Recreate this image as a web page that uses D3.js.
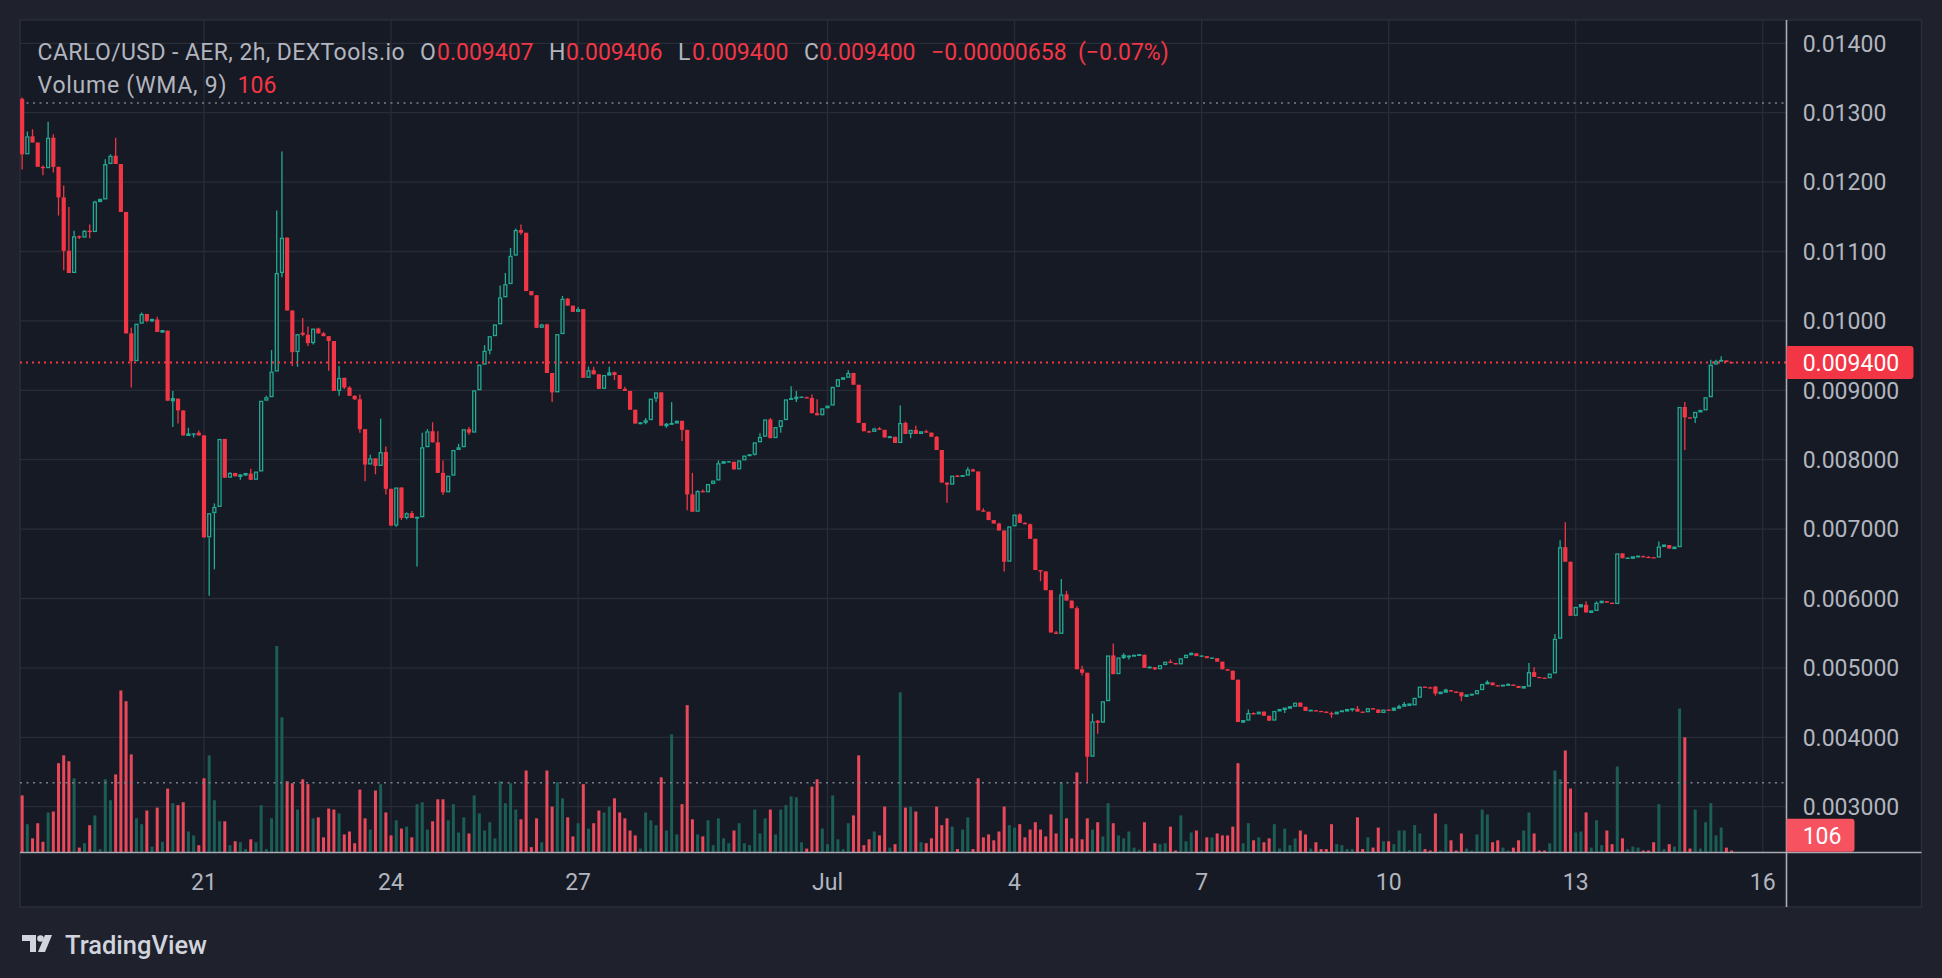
<!DOCTYPE html>
<html><head><meta charset="utf-8">
<script src="https://cdn.jsdelivr.net/npm/d3@7"></script>
<style>html,body{margin:0;padding:0;background:#1f222d;overflow:hidden}</style>
</head><body><svg id="c" width="1942" height="978"></svg>
<script>
// Prices in thousandths of USD (value * 0.001)
const openK = [
13.20,12.40,12.66,12.57,12.22,12.20,12.64,12.22,11.78,11.01,
10.69,11.22,11.20,11.30,11.28,11.72,11.75,12.26,12.38,12.26,
11.57,9.82,9.42,9.96,10.10,10.00,10.02,9.84,9.86,8.85,
8.88,8.71,8.35,8.37,8.39,8.35,6.88,7.23,7.32,8.30,
7.74,7.81,7.76,7.78,7.80,7.71,7.83,8.85,8.90,9.27,
10.69,11.20,10.15,9.55,9.83,9.80,9.68,9.89,9.82,9.78,
9.71,8.99,9.18,9.04,8.92,8.87,8.44,7.93,8.02,7.91,
8.11,7.58,7.05,7.60,7.16,7.23,7.16,7.17,8.18,8.41,
8.25,7.81,7.53,7.77,8.14,8.18,8.44,8.39,9.00,9.37,
9.57,9.78,9.95,10.34,10.53,10.94,11.31,11.27,10.43,10.37,
9.90,9.95,9.25,8.97,9.81,10.32,10.22,10.13,10.17,9.18,
9.29,9.23,9.02,9.22,9.26,9.22,9.02,8.99,8.72,8.52,
8.53,8.57,8.88,8.97,8.49,8.51,8.52,8.56,8.43,7.50,
7.25,7.55,7.53,7.65,7.70,7.95,7.97,7.97,7.86,7.99,
8.06,8.07,8.25,8.33,8.58,8.31,8.47,8.57,8.87,8.88,
8.90,8.90,8.89,8.67,8.64,8.74,8.78,9.05,9.16,9.18,
9.25,9.08,8.53,8.41,8.40,8.45,8.43,8.32,8.33,8.24,
8.53,8.37,8.43,8.37,8.41,8.39,8.33,8.14,7.67,7.64,
7.77,7.76,7.77,7.86,7.83,7.27,7.25,7.13,7.08,6.98,
6.53,7.04,7.21,7.09,7.07,6.86,6.41,6.39,6.12,5.51,
5.49,6.06,5.97,5.86,4.98,4.93,3.72,4.24,4.21,4.52,
5.18,4.91,5.15,5.16,5.17,5.18,5.19,5.00,5.01,4.98,
5.04,5.09,5.07,5.05,5.14,5.19,5.21,5.17,5.17,5.14,
5.14,5.09,4.98,4.96,4.83,4.22,4.24,4.35,4.33,4.37,
4.31,4.24,4.38,4.40,4.42,4.44,4.50,4.44,4.38,4.39,
4.38,4.37,4.35,4.33,4.37,4.38,4.40,4.41,4.37,4.36,
4.42,4.40,4.35,4.40,4.39,4.42,4.44,4.46,4.46,4.57,
4.73,4.72,4.73,4.63,4.65,4.68,4.66,4.65,4.59,4.61,
4.62,4.68,4.77,4.79,4.75,4.74,4.75,4.76,4.74,4.71,
4.73,4.94,4.87,4.86,4.85,4.92,5.42,6.74,6.53,5.75,
5.88,5.91,5.80,5.82,5.94,5.96,5.94,5.92,6.65,6.58,
6.58,6.60,6.61,6.60,6.595,6.59,6.75,6.77,6.72,6.74,
8.76,8.61,8.60,8.69,8.71,8.90,9.37,9.42,9.43,9.407];
const highK = [
13.22,12.73,12.76,12.57,12.24,12.87,12.69,12.22,11.95,11.64,
11.30,11.23,11.31,11.39,11.73,11.76,12.33,12.40,12.64,12.26,
11.57,9.90,9.96,10.12,10.10,10.03,10.06,9.87,9.86,8.99,
8.88,8.71,8.46,8.38,8.42,8.35,7.23,7.37,8.30,8.30,
7.82,7.81,7.79,7.81,7.87,7.83,8.85,8.92,9.58,11.59,
12.44,11.20,10.15,9.81,10.04,9.92,9.89,9.90,9.84,9.78,
9.71,9.35,9.18,9.06,8.93,8.94,8.44,8.07,8.02,8.59,
8.19,7.58,7.60,7.60,7.24,7.26,7.17,8.39,8.44,8.54,
8.41,7.99,7.77,8.14,8.23,8.44,8.47,9.00,9.37,9.65,
9.78,9.95,10.51,10.69,11.05,11.33,11.39,11.27,10.43,10.37,
9.96,9.96,9.25,9.81,10.36,10.33,10.22,10.20,10.17,9.34,
9.34,9.23,9.22,9.34,9.27,9.22,9.05,8.99,8.72,8.54,
8.60,8.88,8.97,8.97,8.53,8.83,8.57,8.56,8.43,7.81,
7.56,7.57,7.65,7.70,7.99,7.98,7.98,7.97,7.99,8.06,
8.08,8.25,8.38,8.58,8.60,8.47,8.57,8.87,9.06,8.99,
8.91,8.91,8.94,8.87,8.74,8.78,9.05,9.16,9.18,9.29,
9.25,9.08,8.53,8.42,8.46,8.47,8.43,8.34,8.33,8.78,
8.55,8.43,8.49,8.41,8.43,8.39,8.34,8.14,7.67,7.77,
7.78,7.78,7.89,7.87,7.83,7.30,7.25,7.13,7.09,6.98,
7.04,7.21,7.23,7.10,7.08,6.86,6.41,6.39,6.12,5.53,
6.28,6.11,5.97,5.89,5.03,4.93,4.34,4.25,4.52,5.18,
5.35,5.15,5.21,5.18,5.19,5.20,5.19,5.02,5.01,5.04,
5.09,5.12,5.07,5.14,5.19,5.22,5.21,5.18,5.17,5.15,
5.14,5.09,4.98,4.96,4.83,4.24,4.40,4.36,4.37,4.37,
4.31,4.38,4.40,4.42,4.44,4.50,4.50,4.44,4.39,4.39,
4.38,4.37,4.37,4.37,4.38,4.40,4.41,4.45,4.37,4.42,
4.42,4.40,4.40,4.40,4.42,4.47,4.51,4.48,4.57,4.73,
4.73,4.73,4.74,4.65,4.70,4.68,4.66,4.65,4.61,4.62,
4.68,4.77,4.82,4.79,4.75,4.75,4.78,4.76,4.74,4.73,
5.07,5.01,4.87,4.86,4.92,5.49,6.84,7.10,6.53,5.88,
5.91,5.96,5.82,5.96,5.96,5.96,5.94,6.65,6.65,6.59,
6.60,6.61,6.62,6.61,6.60,6.82,6.77,6.77,6.74,8.76,
8.83,8.61,8.69,8.71,8.90,9.44,9.44,9.49,9.43,9.406];
const lowK = [
12.18,12.40,12.57,12.22,12.10,12.20,12.14,11.52,10.73,10.69,
10.69,11.18,11.20,11.19,11.28,11.72,11.75,12.26,12.26,11.57,
9.82,9.04,9.42,9.96,9.98,9.99,9.84,9.83,8.85,8.47,
8.52,8.35,8.35,8.32,8.35,6.88,6.04,6.42,7.32,7.74,
7.74,7.76,7.71,7.77,7.71,7.71,7.83,8.85,8.90,9.27,
10.63,10.15,9.35,9.34,9.78,9.64,9.66,9.82,9.78,9.28,
8.99,8.92,9.02,8.92,8.86,8.39,7.69,7.93,7.79,7.91,
7.50,7.05,7.03,7.13,7.14,7.16,6.46,7.17,8.18,8.25,
7.81,7.49,7.53,7.77,8.14,8.18,8.36,8.39,9.00,9.37,
9.52,9.78,9.95,10.34,10.53,10.94,11.24,10.43,10.37,9.90,
9.90,9.25,8.83,8.97,9.81,10.22,10.13,10.13,9.18,9.18,
9.23,9.02,9.02,9.22,9.15,9.02,8.99,8.72,8.52,8.51,
8.51,8.57,8.83,8.49,8.46,8.51,8.52,8.27,7.27,7.25,
7.25,7.53,7.53,7.65,7.70,7.95,7.96,7.86,7.86,7.99,
8.05,8.06,8.25,8.33,8.31,8.31,8.39,8.57,8.87,8.83,
8.89,8.89,8.67,8.64,8.64,8.74,8.78,9.05,9.16,9.18,
9.08,8.53,8.41,8.39,8.40,8.43,8.32,8.31,8.24,8.24,
8.37,8.31,8.37,8.37,8.39,8.33,8.14,7.67,7.38,7.64,
7.75,7.76,7.77,7.83,7.27,7.25,7.13,7.08,6.98,6.39,
6.53,7.04,7.09,7.07,6.86,6.41,6.25,6.12,5.51,5.49,
5.49,5.97,5.86,4.98,4.89,3.35,3.72,4.05,4.21,4.52,
4.91,4.91,5.13,5.12,5.17,5.18,5.00,5.00,4.97,4.98,
5.04,5.07,5.05,5.05,5.14,5.19,5.17,5.16,5.14,5.13,
5.09,4.98,4.96,4.83,4.22,4.21,4.24,4.33,4.33,4.31,
4.24,4.24,4.38,4.35,4.42,4.44,4.44,4.38,4.38,4.38,
4.37,4.35,4.28,4.33,4.37,4.38,4.37,4.37,4.36,4.36,
4.40,4.35,4.35,4.39,4.39,4.42,4.44,4.46,4.46,4.57,
4.72,4.71,4.60,4.63,4.65,4.66,4.64,4.52,4.59,4.60,
4.62,4.68,4.77,4.75,4.74,4.74,4.75,4.74,4.71,4.71,
4.73,4.87,4.86,4.85,4.85,4.92,5.42,6.53,5.75,5.75,
5.88,5.80,5.80,5.82,5.94,5.94,5.92,5.92,6.58,6.58,
6.58,6.60,6.60,6.595,6.59,6.59,6.75,6.72,6.72,6.74,
8.14,8.60,8.53,8.69,8.71,8.90,9.37,9.42,9.405,9.400];
const closeK = [
12.40,12.66,12.57,12.22,12.20,12.64,12.22,11.78,11.01,10.69,
11.22,11.20,11.30,11.28,11.72,11.75,12.26,12.38,12.26,11.57,
9.82,9.42,9.96,10.10,10.00,10.02,9.84,9.86,8.85,8.88,
8.71,8.35,8.37,8.37,8.35,6.88,7.23,7.32,8.30,7.74,
7.81,7.76,7.78,7.80,7.71,7.83,8.85,8.90,9.27,10.69,
11.20,10.15,9.55,9.81,9.80,9.68,9.89,9.82,9.78,9.71,
8.99,9.18,9.04,8.92,8.87,8.44,7.93,8.02,7.91,8.11,
7.58,7.05,7.60,7.16,7.23,7.16,7.17,8.18,8.41,8.25,
7.81,7.53,7.77,8.14,8.18,8.44,8.39,9.00,9.37,9.57,
9.78,9.95,10.34,10.53,10.94,11.31,11.27,10.43,10.37,9.90,
9.95,9.25,8.97,9.81,10.32,10.22,10.13,10.17,9.18,9.29,
9.23,9.02,9.22,9.25,9.22,9.02,8.99,8.72,8.52,8.53,
8.57,8.88,8.97,8.49,8.51,8.52,8.56,8.43,7.50,7.25,
7.55,7.53,7.65,7.70,7.95,7.97,7.97,7.86,7.99,8.06,
8.07,8.25,8.33,8.58,8.31,8.47,8.57,8.87,8.88,8.90,
8.90,8.89,8.67,8.64,8.74,8.78,9.05,9.16,9.18,9.25,
9.08,8.53,8.41,8.40,8.45,8.43,8.32,8.33,8.24,8.53,
8.37,8.43,8.37,8.41,8.39,8.33,8.14,7.67,7.64,7.77,
7.76,7.77,7.86,7.83,7.27,7.25,7.13,7.08,6.98,6.53,
7.04,7.21,7.09,7.07,6.86,6.41,6.39,6.12,5.51,5.49,
6.06,5.97,5.86,4.98,4.93,3.72,4.23,4.21,4.52,5.18,
4.91,5.15,5.18,5.17,5.18,5.19,5.00,5.01,4.98,5.04,
5.09,5.07,5.05,5.14,5.19,5.21,5.17,5.17,5.14,5.14,
5.09,4.98,4.96,4.83,4.22,4.24,4.35,4.33,4.37,4.31,
4.24,4.38,4.40,4.42,4.44,4.50,4.44,4.38,4.39,4.38,
4.37,4.35,4.33,4.37,4.38,4.40,4.41,4.37,4.36,4.42,
4.40,4.35,4.40,4.39,4.42,4.44,4.48,4.48,4.57,4.73,
4.72,4.71,4.63,4.65,4.68,4.66,4.64,4.59,4.61,4.62,
4.68,4.77,4.79,4.75,4.74,4.75,4.76,4.74,4.71,4.73,
4.94,4.87,4.86,4.85,4.92,5.42,6.74,6.53,5.75,5.88,
5.91,5.80,5.82,5.94,5.96,5.94,5.92,6.65,6.58,6.58,
6.60,6.61,6.60,6.595,6.59,6.75,6.77,6.72,6.74,8.76,
8.61,8.60,8.69,8.71,8.90,9.37,9.42,9.43,9.407,9.400];
const volume = [
351,174,87,180,66,246,252,549,597,561,
456,30,57,168,228,21,450,321,480,996,
930,603,210,174,258,36,276,66,393,303,
291,309,129,105,45,456,597,321,192,192,
45,69,63,21,81,63,291,21,210,1269,
831,438,426,264,450,420,210,216,93,270,
264,240,111,129,57,387,210,141,381,420,
246,105,198,147,159,93,297,309,141,192,
327,327,198,297,123,216,117,351,240,135,
186,87,438,303,426,264,204,504,33,210,
63,504,282,432,333,216,99,180,420,147,
180,258,246,282,333,246,210,135,105,24,
246,198,168,462,135,726,111,297,906,204,
111,99,198,45,210,87,57,135,180,57,
45,264,117,210,264,111,264,291,345,339,
63,24,405,450,147,51,351,81,21,180,
228,597,45,81,129,105,282,30,51,984,
276,282,252,63,57,87,282,168,210,159,
21,141,216,21,456,93,111,75,129,282,
168,153,174,93,141,186,141,99,234,117,
432,210,87,492,81,210,141,186,99,303,
180,105,87,129,30,18,186,12,57,51,
57,159,12,228,69,123,135,12,93,93,
117,105,105,159,549,57,180,75,93,63,
87,174,24,147,45,87,135,111,24,63,
21,21,174,51,45,21,21,216,21,93,
30,153,69,69,51,135,135,15,168,117,
21,12,240,12,174,75,12,117,24,12,
111,264,234,63,75,30,12,30,75,135,
246,117,12,12,57,504,450,627,393,123,
129,246,30,198,45,135,51,528,87,21,
36,30,12,12,63,297,21,51,36,885,
708,24,264,24,186,303,105,153,30,12];

const priceTicks = [0.014,0.013,0.012,0.011,0.010,0.009,0.008,0.007,0.006,0.005,0.004,0.003];
const priceTickLabels = ["0.01400","0.01300","0.01200","0.01100","0.01000","0.009000","0.008000","0.007000","0.006000","0.005000","0.004000","0.003000"];
const timeTicks = [Date.UTC(2024,5,21),Date.UTC(2024,5,24),Date.UTC(2024,5,27),Date.UTC(2024,6,1),Date.UTC(2024,6,4),Date.UTC(2024,6,7),Date.UTC(2024,6,10),Date.UTC(2024,6,13),Date.UTC(2024,6,16)];
const timeTickLabels = ["21","24","27","Jul","4","7","10","13","16"];
const firstBar = Date.UTC(2024,5,18,2);
const barMs = 2*3600*1000;
const lastPrice = 0.0094;
const volWMA = 106;
const rangeHigh = 0.01314, rangeLow = 0.003345;
const headerTitle = "CARLO/USD - AER, 2h, DEXTools.io";
const headerOHLC = [["O","0.009407"],["H","0.009406"],["L","0.009400"],["C","0.009400"]];
const headerChange = ["\u22120.00000658","(\u22120.07%)"];

const K = 0.001;
const bars = closeK.map((c,i)=>({t:new Date(firstBar+i*barMs),o:openK[i]*K,h:highK[i]*K,l:lowK[i]*K,c:c*K,v:volume[i]}));

const W=1942,H=978;
const paneL=20, paneT=20, paneR=1921.5, paneB=907, plotR=1786.5, plotB=852.5;
const UP="#22ab94", DN="#f23645", UPV="#1b5e55", DNV="#e9495b";
const BG="#1f222d", PANE="#161a25", GRID="#282c37", TXT="#b2b5be", FONT="Roboto, 'Noto Sans', sans-serif";

const svg=d3.select('#c');
svg.append('rect').attr('width',W).attr('height',H).attr('fill',BG);
svg.append('rect').attr('x',paneL).attr('y',paneT).attr('width',paneR-paneL).attr('height',paneB-paneT)
  .attr('fill',PANE).attr('stroke','#2a2e39').attr('stroke-width',1.5);

const x = d3.scaleUtc().domain([new Date(Date.UTC(2024,5,21)),new Date(Date.UTC(2024,6,13))]).range([204,1575.7]);
const y = d3.scaleLinear().domain([0.003,0.014]).range([806.7,43.3]);
const vy = d3.scaleLinear().domain([0,1300]).range([plotB,641]);

const defs=svg.append('defs');
defs.append('clipPath').attr('id','plot').append('rect').attr('x',paneL).attr('y',paneT).attr('width',plotR-paneL).attr('height',plotB-paneT);

// grid
const grid=svg.append('g').attr('clip-path','url(#plot)');
grid.selectAll('line.h').data(priceTicks).join('line').attr('x1',paneL).attr('x2',plotR)
  .attr('y1',d=>y(d)).attr('y2',d=>y(d)).attr('stroke',GRID).attr('stroke-width',1.3);
grid.selectAll('line.v').data(timeTicks).join('line').attr('y1',paneT).attr('y2',plotB)
  .attr('x1',d=>x(new Date(d))).attr('x2',d=>x(new Date(d))).attr('stroke',GRID).attr('stroke-width',1.3);

const plot=svg.append('g').attr('clip-path','url(#plot)');
// volume
plot.selectAll('rect.vol').data(bars).join('rect').attr('class','vol')
  .attr('x',d=>x(d.t)-1.5).attr('width',3)
  .attr('y',d=>vy(d.v)).attr('height',d=>Math.max(0.8,plotB-vy(d.v)))
  .attr('fill',d=>d.c>=d.o?UPV:DNV);

// dotted range lines
[rangeHigh,rangeLow].forEach(p=>{
  plot.append('line').attr('x1',paneL).attr('x2',plotR).attr('y1',y(p)).attr('y2',y(p))
   .attr('stroke','#7d808a').attr('stroke-width',1.6).attr('stroke-dasharray','2,4.5');
});

// candles
const bw=4.2;
const cg=plot.append('g');
bars.forEach(d=>{
  const cx=x(d.t), up=d.c>=d.o, col=up?UP:DN;
  const top=y(Math.max(d.o,d.c)), bot=y(Math.min(d.o,d.c));
  const yh=y(Math.max(d.h,d.o,d.c)), yl=y(Math.min(d.l,d.o,d.c));
  if(up){
    if(yh<top) cg.append('line').attr('x1',cx).attr('x2',cx).attr('y1',yh).attr('y2',top).attr('stroke',col).attr('stroke-width',1.3);
    if(yl>bot) cg.append('line').attr('x1',cx).attr('x2',cx).attr('y1',bot).attr('y2',yl).attr('stroke',col).attr('stroke-width',1.3);
    const hgt=Math.max(0,bot-top);
    if(hgt<2.2){
      cg.append('rect').attr('x',cx-bw/2).attr('y',top-0.6).attr('width',bw).attr('height',Math.max(1.3,hgt+1.2)).attr('fill',col);
    } else {
      cg.append('rect').attr('x',cx-bw/2+0.65).attr('y',top+0.65).attr('width',bw-1.3).attr('height',hgt-1.3)
        .attr('fill',PANE).attr('stroke',col).attr('stroke-width',1.3);
    }
  } else {
    cg.append('line').attr('x1',cx).attr('x2',cx).attr('y1',yh).attr('y2',yl).attr('stroke',col).attr('stroke-width',1.3);
    cg.append('rect').attr('x',cx-bw/2).attr('y',top).attr('width',bw).attr('height',Math.max(1.3,bot-top)).attr('fill',col);
  }
});

// last price line
plot.append('line').attr('x1',paneL).attr('x2',plotR).attr('y1',y(lastPrice)).attr('y2',y(lastPrice))
  .attr('stroke',DN).attr('stroke-width',2).attr('stroke-dasharray','2,4');

// axis lines
svg.append('line').attr('x1',plotR).attr('x2',plotR).attr('y1',paneT).attr('y2',paneB).attr('stroke','#a9acb5').attr('stroke-width',1.6);
svg.append('line').attr('x1',paneL).attr('x2',paneR).attr('y1',plotB).attr('y2',plotB).attr('stroke','#a9acb5').attr('stroke-width',1.6);

// price labels
svg.selectAll('text.py').data(priceTicks).join('text').attr('x',1802.7).attr('y',d=>y(d)+8.3)
  .text((d,i)=>priceTickLabels[i]).attr('fill',TXT).attr('font-family',FONT).attr('font-size',23);
// time labels
svg.selectAll('text.tx').data(timeTicks).join('text').attr('x',d=>x(new Date(d))).attr('y',890)
  .attr('text-anchor','middle').text((d,i)=>timeTickLabels[i]).attr('fill',TXT).attr('font-family',FONT).attr('font-size',23);

// last price badge
const ly=y(lastPrice);
svg.append('path').attr('d',`M${plotR},${ly-16.5}h124a3,3 0 0 1 3,3v27a3,3 0 0 1 -3,3h-124z`).attr('fill',DN);
svg.append('text').attr('x',1802.7).attr('y',ly+8.3).text(d3.format('.6f')(lastPrice)).attr('fill','#ffffff')
  .attr('font-family',FONT).attr('font-size',23);
// volume badge
const vyy=vy(volWMA);
svg.append('path').attr('d',`M${plotR},${vyy-16.5}h65a3,3 0 0 1 3,3v27a3,3 0 0 1 -3,3h-65z`).attr('fill','#f7525f');
svg.append('text').attr('x',1802.7).attr('y',vyy+8.3).text(volWMA).attr('fill','#ffffff')
  .attr('font-family',FONT).attr('font-size',23);

// header legend
const hdr=svg.append('g').attr('font-family',FONT).attr('font-size',23);
hdr.append('text').attr('x',37.5).attr('y',59.8).attr('fill',TXT).attr('textLength',367).attr('lengthAdjust','spacing').text(headerTitle);
const ohlcX=[[420,437],[549,566],[678,692],[804,819]];
headerOHLC.forEach((p,i)=>{
  hdr.append('text').attr('x',ohlcX[i][0]).attr('y',59.8).attr('fill',TXT).text(p[0]);
  hdr.append('text').attr('x',ohlcX[i][1]).attr('y',59.8).attr('fill',DN).text(p[1]);
});
hdr.append('text').attr('x',931).attr('y',59.8).attr('fill',DN).text(headerChange[0]);
hdr.append('text').attr('x',1078).attr('y',59.8).attr('fill',DN).text(headerChange[1]);
hdr.append('text').attr('x',37.5).attr('y',93).attr('fill',TXT).attr('textLength',189).attr('lengthAdjust','spacing').text("Volume (WMA, 9)");
hdr.append('text').attr('x',237.6).attr('y',93).attr('fill',DN).text(volWMA);

// TradingView logo
const lg=svg.append('g').attr('fill','#d1d4dc');
lg.append('path').attr('d','M22,935h14v17h-6v-11h-8z');
lg.append('circle').attr('cx',40.5).attr('cy',938.5).attr('r',3.3);
lg.append('path').attr('d','M45,935h7l-7,17h-7z');
lg.append('text').attr('x',65).attr('y',953.5).attr('font-family',FONT).attr('font-size',25.5).attr('font-weight',500).text('TradingView');
</script></body></html>
